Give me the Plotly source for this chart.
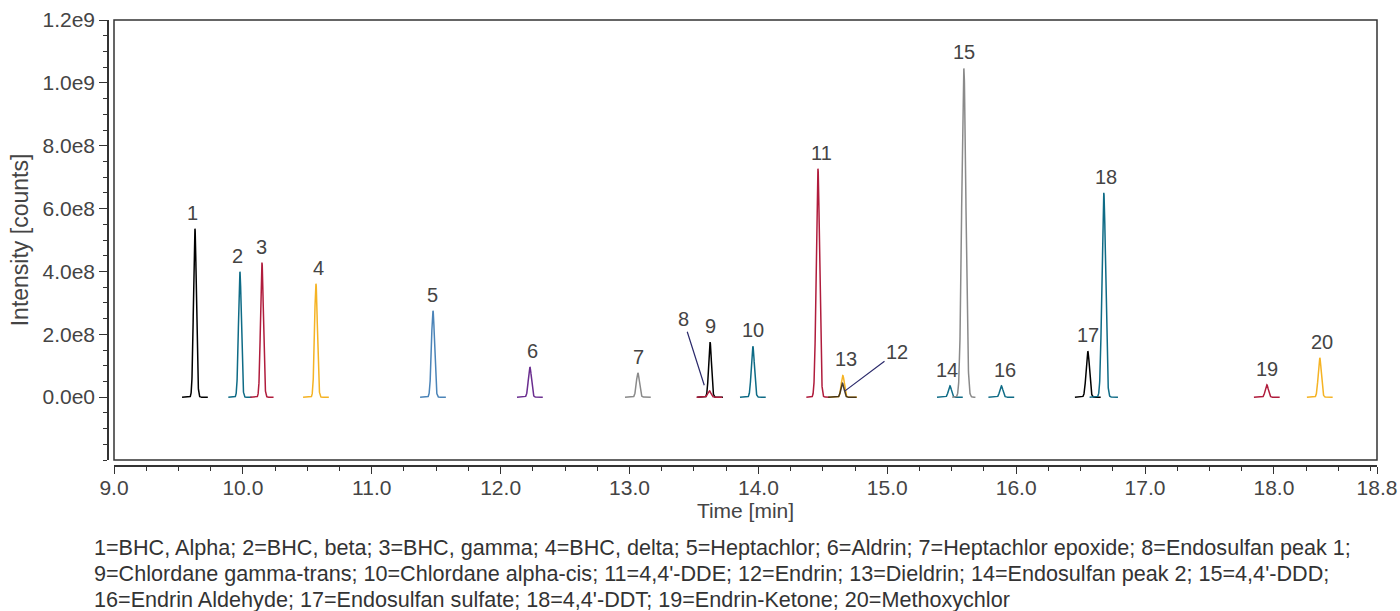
import numpy as np
import plotly.graph_objects as go

# ---------------- data ----------------
peak_labels = [str(i) for i in range(1, 21)]
compound_names = [
    "BHC, Alpha", "BHC, beta", "BHC, gamma", "BHC, delta", "Heptachlor",
    "Aldrin", "Heptachlor epoxide", "Endosulfan peak 1", "Chlordane gamma-trans",
    "Chlordane alpha-cis", "4,4'-DDE", "Endrin", "Dieldrin", "Endosulfan peak 2",
    "4,4'-DDD", "Endrin Aldehyde", "Endosulfan sulfate", "4,4'-DDT",
    "Endrin-Ketone", "Methoxychlor",
]
peak_rt = [9.628, 9.977, 10.148, 10.567, 11.475, 12.227, 13.065, 13.620, 13.625,
           13.957, 14.462, 14.652, 14.655, 15.486, 15.594, 15.885, 16.556, 16.680,
           17.945, 18.356]
peak_height = [5.36e8, 3.99e8, 4.28e8, 3.61e8, 2.75e8, 0.96e8, 0.77e8, 0.20e8, 1.75e8,
               1.62e8, 7.27e8, 0.44e8, 0.69e8, 0.36e8, 10.46e8, 0.36e8, 1.46e8, 6.50e8,
               0.39e8, 1.25e8]
peak_sigma = [0.011, 0.011, 0.011, 0.011, 0.012, 0.012, 0.012, 0.012, 0.011,
              0.012, 0.013, 0.012, 0.012, 0.012, 0.016, 0.012, 0.013, 0.014,
              0.012, 0.012]
peak_halfspan = [0.10, 0.09, 0.09, 0.10, 0.10, 0.10, 0.10, 0.10, 0.10,
                 0.10, 0.09, 0.11, 0.11, 0.10, 0.09, 0.10, 0.10, 0.11,
                 0.10, 0.10]

x_ticks = [9.0, 10.0, 11.0, 12.0, 13.0, 14.0, 15.0, 16.0, 17.0, 18.0, 18.8]
x_ticktext = ["9.0", "10.0", "11.0", "12.0", "13.0", "14.0", "15.0", "16.0", "17.0", "18.0", "18.8"]
y_ticks = [0, 2e8, 4e8, 6e8, 8e8, 1.0e9, 1.2e9]
y_ticktext = ["0.0e0", "2.0e8", "4.0e8", "6.0e8", "8.0e8", "1.0e9", "1.2e9"]

# ---------------- styling ----------------
BLACK = "#000000"
TEAL = "#0e6b86"
CRIMSON = "#b01c3c"
ORANGE = "#f5b324"
STEEL = "#4b84b8"
PURPLE = "#6a2d8f"
GRAY = "#8a8a8a"
peak_colors = [BLACK, TEAL, CRIMSON, ORANGE, STEEL, PURPLE, GRAY, CRIMSON, BLACK,
               TEAL, CRIMSON, "rgba(40,30,20,0.85)", ORANGE, TEAL, GRAY, TEAL, BLACK, TEAL,
               CRIMSON, ORANGE]
draw_order = [0, 1, 2, 3, 4, 5, 6, 8, 7, 9, 10, 12, 11, 13, 14, 15, 16, 17, 18, 19]
label_xshift = [-2, -2, 0, 3, 0, 3, 1, 0, 0, 0, 4, 0, 3, -3, 0, 4, 0, 2, 0, 2]

TEXT = "#444444"
FONT = "Liberation Sans, Arial, Helvetica, sans-serif"

fig = go.Figure()
for i in draw_order:
    rt, h, s, hs = peak_rt[i], peak_height[i], peak_sigma[i], peak_halfspan[i]
    t = np.linspace(rt - hs, rt + hs, 301)
    sig = h * np.exp(-0.5 * ((t - rt) / s) ** 2)
    fig.add_trace(go.Scatter(x=t, y=sig, mode="lines",
                             line=dict(color=peak_colors[i], width=1.5),
                             name=f"{peak_labels[i]}={compound_names[i]}",
                             hoverinfo="skip", showlegend=False))

# peak number labels
for i in range(20):
    if peak_labels[i] in ("8", "12"):
        continue
    fig.add_annotation(x=peak_rt[i], y=peak_height[i], text=peak_labels[i],
                       showarrow=False, yanchor="middle", yshift=16,
                       xshift=label_xshift[i],
                       font=dict(size=20, color=TEXT, family=FONT))
# labels with leader lines
fig.add_annotation(x=peak_rt[7] - 0.04, y=0.38e8, text="8", showarrow=True,
                   arrowhead=0, arrowwidth=1.2, arrowcolor="#2b2a6b",
                   ax=-21, ay=-66, font=dict(size=20, color=TEXT, family=FONT))
fig.add_annotation(x=peak_rt[11] + 0.02, y=0.20e8, text="12", showarrow=True,
                   arrowhead=0, arrowwidth=1.2, arrowcolor="#2b2a6b",
                   ax=52, ay=-39, font=dict(size=20, color=TEXT, family=FONT))

# caption (three lines)
items = [f"{peak_labels[i]}={compound_names[i]}" for i in range(20)]
lines = ["; ".join(items[0:8]) + ";", "; ".join(items[8:15]) + ";", "; ".join(items[15:20])]
for k, ln in enumerate(lines):
    fig.add_annotation(xref="paper", yref="paper", x=-0.0126, y=(466 - 547 - 26 * k) / 446,
                       xanchor="left", yanchor="middle", text=ln, showarrow=False,
                       align="left", font=dict(size=21.6, color="#333333", family=FONT))

# plot frame
fig.add_shape(type="rect", xref="x domain", yref="y domain", x0=0, x1=1, y0=0, y1=1,
              line=dict(color="#333333", width=1.5), fillcolor="rgba(0,0,0,0)", layer="above")

fig.update_layout(
    width=1400, height=611,
    margin=dict(l=108, r=23, t=20, b=145, autoexpand=False),
    paper_bgcolor="white", plot_bgcolor="white",
    font=dict(family=FONT, color=TEXT, size=20),
    showlegend=False,
    xaxis=dict(
        range=[9.0, 18.8], domain=[6 / 1269, 1], anchor="free", position=0,
        automargin=False,
        tickmode="array", tickvals=x_ticks, ticktext=x_ticktext,
        ticks="outside", ticklen=7, tickwidth=1.3, tickcolor="#333333",
        ticklabelstandoff=-4,
        showline=True, linecolor="#333333", linewidth=1.5,
        showgrid=False, zeroline=False,
        tickfont=dict(size=21, color=TEXT, family=FONT),
        minor=dict(tick0=9.0, dtick=0.25, ticks="outside", ticklen=4, tickwidth=1.2,
                   tickcolor="#333333", showgrid=False),
        title=dict(text="Time [min]", standoff=0, font=dict(size=21, color=TEXT, family=FONT)),
    ),
    yaxis=dict(
        range=[-2e8, 1.2e9], domain=[6 / 446, 1], anchor="free", position=0,
        automargin=False,
        tickmode="array", tickvals=y_ticks, ticktext=y_ticktext,
        ticks="outside", ticklen=8, tickwidth=1.3, tickcolor="#333333",
        showline=True, linecolor="#333333", linewidth=1.5,
        showgrid=False, zeroline=False,
        tickfont=dict(size=21, color=TEXT, family=FONT),
        minor=dict(tick0=0, dtick=5e7, ticks="outside", ticklen=4, tickwidth=1.2,
                   tickcolor="#333333", showgrid=False),
        title=dict(text="Intensity [counts]", standoff=6, font=dict(size=23, color=TEXT, family=FONT)),
    ),
)

fig.write_html("out.html", config={"displayModeBar": False},
               post_script="document.body.style.margin='0';document.body.style.overflow='hidden';")
